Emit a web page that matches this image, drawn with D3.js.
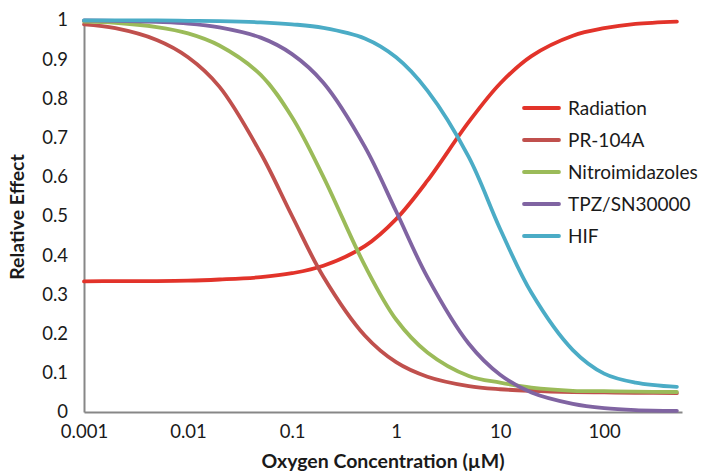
<!DOCTYPE html>
<html><head><meta charset="utf-8">
<script src="https://cdn.jsdelivr.net/npm/d3@7"></script>
<style>
html,body{margin:0;padding:0;background:#fff;}
svg text{font-family:Lato,"Open Sans",sans-serif;fill:#1a1a1a;}
</style></head>
<body><svg id="c" width="704" height="473"></svg>
<script>
const oxygen = [0.001,0.002,0.005,0.01,0.02,0.05,0.1,0.2,0.5,1,2,5,10,20,50,100,200,500];
const radiation =       [0.333,0.334,0.334,0.335,0.338,0.344,0.354,0.373,0.423,0.492,0.590,0.740,0.838,0.908,0.960,0.979,0.990,0.996];
const pr104a =          [0.989,0.979,0.949,0.905,0.830,0.660,0.500,0.345,0.195,0.127,0.090,0.066,0.058,0.054,0.051,0.050,0.049,0.048];
const nitroimidazoles = [0.996,0.993,0.982,0.966,0.935,0.860,0.752,0.600,0.374,0.236,0.152,0.092,0.075,0.062,0.054,0.053,0.052,0.051];
const tpz =             [0.999,0.998,0.995,0.991,0.981,0.955,0.913,0.840,0.677,0.512,0.344,0.174,0.095,0.050,0.021,0.010,0.005,0.003];
const hif =             [0.999,0.999,0.999,0.998,0.997,0.994,0.989,0.980,0.953,0.905,0.820,0.650,0.467,0.304,0.158,0.098,0.075,0.064];
const seriesNames = ["Radiation","PR-104A","Nitroimidazoles","TPZ/SN30000","HIF"];
const seriesColors = ["#e2332a","#c0504d","#9bbb59","#8064a2","#4bacc6"];
const xTicks = [0.001,0.01,0.1,1,10,100];
const xTickLabels = ["0.001","0.01","0.1","1","10","100"];
const yTicks = [0,0.1,0.2,0.3,0.4,0.5,0.6,0.7,0.8,0.9,1];

const series = [radiation,pr104a,nitroimidazoles,tpz,hif];
const svg = d3.select("#c");
const x = d3.scaleLog().domain([0.001,560]).range([84,682]);
const y = d3.scaleLinear().domain([0,1]).range([412,20]);

// axes
const axisColor = "#878787";
const xAxis = d3.axisBottom(x).tickValues(xTicks).tickFormat((d,i)=>xTickLabels[i]).tickSize(0).tickPadding(13);
const gx = svg.append("g").attr("transform","translate(0,412)").call(xAxis);
gx.select(".domain").attr("stroke",axisColor).attr("stroke-width",2);
gx.selectAll("text").attr("font-size",18.5).attr("font-family","Lato").attr("fill","#1a1a1a");

const yAxis = d3.axisLeft(y).tickValues(yTicks).tickFormat(d=>d3.format("")(+d.toFixed(1))).tickSize(0).tickPadding(16);
const gy = svg.append("g").attr("transform","translate(84,0)").call(yAxis);
gy.select(".domain").attr("stroke",axisColor).attr("stroke-width",2);
gy.selectAll("text").attr("font-size",18.5).attr("font-family","Lato").attr("fill","#1a1a1a");

// lines
const line = d3.line().x((d,i)=>x(oxygen[i])).y(d=>y(d)).curve(d3.curveCatmullRom.alpha(0.5));
series.forEach((s,k)=>{
  svg.append("path").datum(s).attr("d",line).attr("fill","none")
    .attr("stroke",seriesColors[k]).attr("stroke-width",3.8).attr("stroke-linecap","round");
});

// legend
const lg = svg.append("g");
seriesNames.forEach((n,k)=>{
  const yy = 108 + k*32;
  lg.append("line").attr("x1",524).attr("x2",559).attr("y1",yy).attr("y2",yy)
    .attr("stroke",seriesColors[k]).attr("stroke-width",3.8).attr("stroke-linecap","round");
  lg.append("text").attr("x",568).attr("y",yy).attr("dy","0.35em").attr("font-size",19).text(n);
});

// titles
svg.append("text").attr("x",383).attr("y",468).attr("text-anchor","middle")
  .attr("font-size",19.5).attr("font-weight","bold").text("Oxygen Concentration (µM)");
svg.append("text").attr("transform","translate(24,217) rotate(-90)").attr("text-anchor","middle")
  .attr("font-size",19.5).attr("font-weight","bold").text("Relative Effect");
</script></body></html>
